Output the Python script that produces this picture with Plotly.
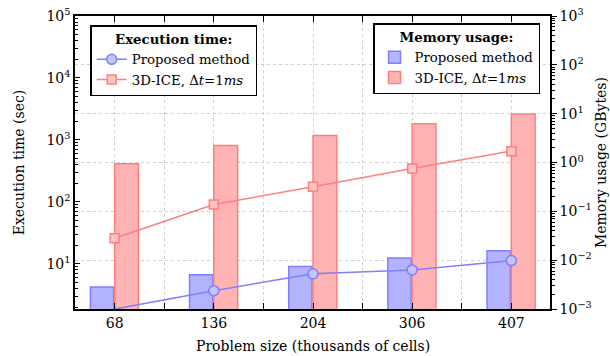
import plotly.graph_objects as go

# ---- data ----
categories = ["68", "136", "204", "306", "407"]
exec_proposed = [1.87, 3.7, 6.9, 8.0, 11.3]          # sec
exec_3dice = [26, 91, 175, 347, 660]                  # sec
mem_proposed = [0.00283, 0.00505, 0.00746, 0.0111, 0.0156]  # GBytes
mem_3dice = [0.94, 2.23, 3.56, 6.2, 9.8]              # GBytes

left_tickvals = [1e1, 1e2, 1e3, 1e4, 1e5]
left_ticktext = ["10<sup>1</sup>", "10<sup>2</sup>", "10<sup>3</sup>", "10<sup>4</sup>", "10<sup>5</sup>"]
right_tickvals = [1e-3, 1e-2, 1e-1, 1e0, 1e1, 1e2, 1e3]
right_ticktext = ["10<sup>−3</sup>", "10<sup>−2</sup>", "10<sup>−1</sup>", "10<sup>0</sup>",
                  "10<sup>1</sup>", "10<sup>2</sup>", "10<sup>3</sup>"]

xpos = list(range(len(categories)))

BLUE_LINE = "#7f7fff"
BLUE_FILL = "#b3b3ff"
RED_LINE = "#ff7f7f"
RED_FILL = "#ffb3b3"
RED_MARK = "#ffc4c4"

FONT = "DejaVu Serif"
FS = 14
FL = 13.3

def F(size=FS):
    return dict(family=FONT, size=size, color="black")

fig = go.Figure()

# bars (memory) on right axis = base axis y
fig.add_trace(go.Bar(
    x=xpos, y=mem_proposed, name="Proposed method", legend="legend2",
    width=0.235, offset=-0.245, marker=dict(color=BLUE_FILL, line=dict(color=BLUE_LINE, width=1.5)),
    yaxis="y"))
fig.add_trace(go.Bar(
    x=xpos, y=mem_3dice, name="3D-ICE, Δ<i>t</i>=1<i>ms</i>", legend="legend2",
    width=0.24, offset=0.0, marker=dict(color=RED_FILL, line=dict(color=RED_LINE, width=1.5)),
    yaxis="y"))

# lines (execution time) on left axis = overlaying y2
fig.add_trace(go.Scatter(
    x=xpos, y=exec_proposed, name="Proposed method", legend="legend",
    mode="lines+markers", line=dict(color=BLUE_LINE, width=1.5),
    marker=dict(symbol="circle", size=10, color="#c4c4ff", line=dict(color=BLUE_LINE, width=1.5)),
    yaxis="y2", cliponaxis=False))
fig.add_trace(go.Scatter(
    x=xpos, y=exec_3dice, name="3D-ICE, Δ<i>t</i>=1<i>ms</i>", legend="legend",
    mode="lines+markers", line=dict(color=RED_LINE, width=1.5),
    marker=dict(symbol="square", size=9, color=RED_MARK, line=dict(color=RED_LINE, width=1.5)),
    yaxis="y2", cliponaxis=False))

def minor_vals(lo, hi):
    vals = []
    for e in range(lo, hi):
        for k in range(2, 10):
            vals.append(k * 10 ** e)
    return vals

fig.update_layout(
    width=610, height=356,
    margin=dict(l=75, r=60, t=16, b=47, autoexpand=False),
    paper_bgcolor="white", plot_bgcolor="white",
    font=F(),
    barmode="overlay",
    showlegend=True,
    xaxis=dict(
        range=[-0.4, 4.39], tickvals=xpos, ticktext=categories, tickfont=F(),
        showline=True, linecolor="black", linewidth=1.5, mirror="allticks",
        ticks="inside", ticklen=6, tickcolor="black",
        showgrid=True, gridcolor="#d0d0d0", griddash="dot", gridwidth=1,
        minor=dict(tick0=0.5, dtick=1, ticks="inside", ticklen=6, tickcolor="black",
                   showgrid=True, gridcolor="#d0d0d0", griddash="dot"),
        zeroline=False, automargin=False,
    ),
    yaxis=dict(
        type="log", range=[-3, 3], side="right",
        tickvals=right_tickvals, ticktext=right_ticktext, tickfont=F(),
        title=dict(text="Memory usage (GBytes)", standoff=5, font=F()),
        showline=True, linecolor="black", linewidth=1.5,
        ticks="outside", ticklen=5, tickcolor="black",
        showgrid=True, gridcolor="#d0d0d0", griddash="dot", gridwidth=1,
        minor=dict(tickvals=minor_vals(-3, 3), ticks="outside", ticklen=3, tickcolor="black", showgrid=False),
        zeroline=False, automargin=False,
    ),
    yaxis2=dict(
        type="log", range=[0.272, 5], side="left", overlaying="y",
        tickvals=left_tickvals, ticktext=left_ticktext, tickfont=F(),
        title=dict(text="Execution time (sec)", standoff=18, font=F()),
        showline=True, linecolor="black", linewidth=1.5,
        ticks="inside", ticklen=5, tickcolor="black",
        showgrid=False,
        minor=dict(tickvals=minor_vals(0, 5), ticks="inside", ticklen=3, tickcolor="black", showgrid=False),
        zeroline=False, automargin=False,
    ),
    legend=dict(
        title=dict(text="<b>Execution time:</b>", side="top center", font=F(FL)),
        x=0.032, y=0.968, xanchor="left", yanchor="top",
        bgcolor="white", bordercolor="black", borderwidth=1.5,
        font=F(FL), itemwidth=30, tracegroupgap=0,
    ),
    legend2=dict(
        title=dict(text="<b>Memory usage:</b>", side="top center", font=F(FL)),
        x=0.979, y=0.975, xanchor="right", yanchor="top",
        bgcolor="white", bordercolor="black", borderwidth=1.5,
        font=F(FL), itemwidth=30, tracegroupgap=0,
    ),
    annotations=[dict(
        text="Problem size (thousands of cells)", xref="paper", yref="paper",
        x=0.5, y=-0.126, xanchor="center", yanchor="middle", showarrow=False, font=F(),
    )],
)

fig.write_html("out.html", config={"displayModeBar": False},
               post_script="document.body.style.margin='0px';")
